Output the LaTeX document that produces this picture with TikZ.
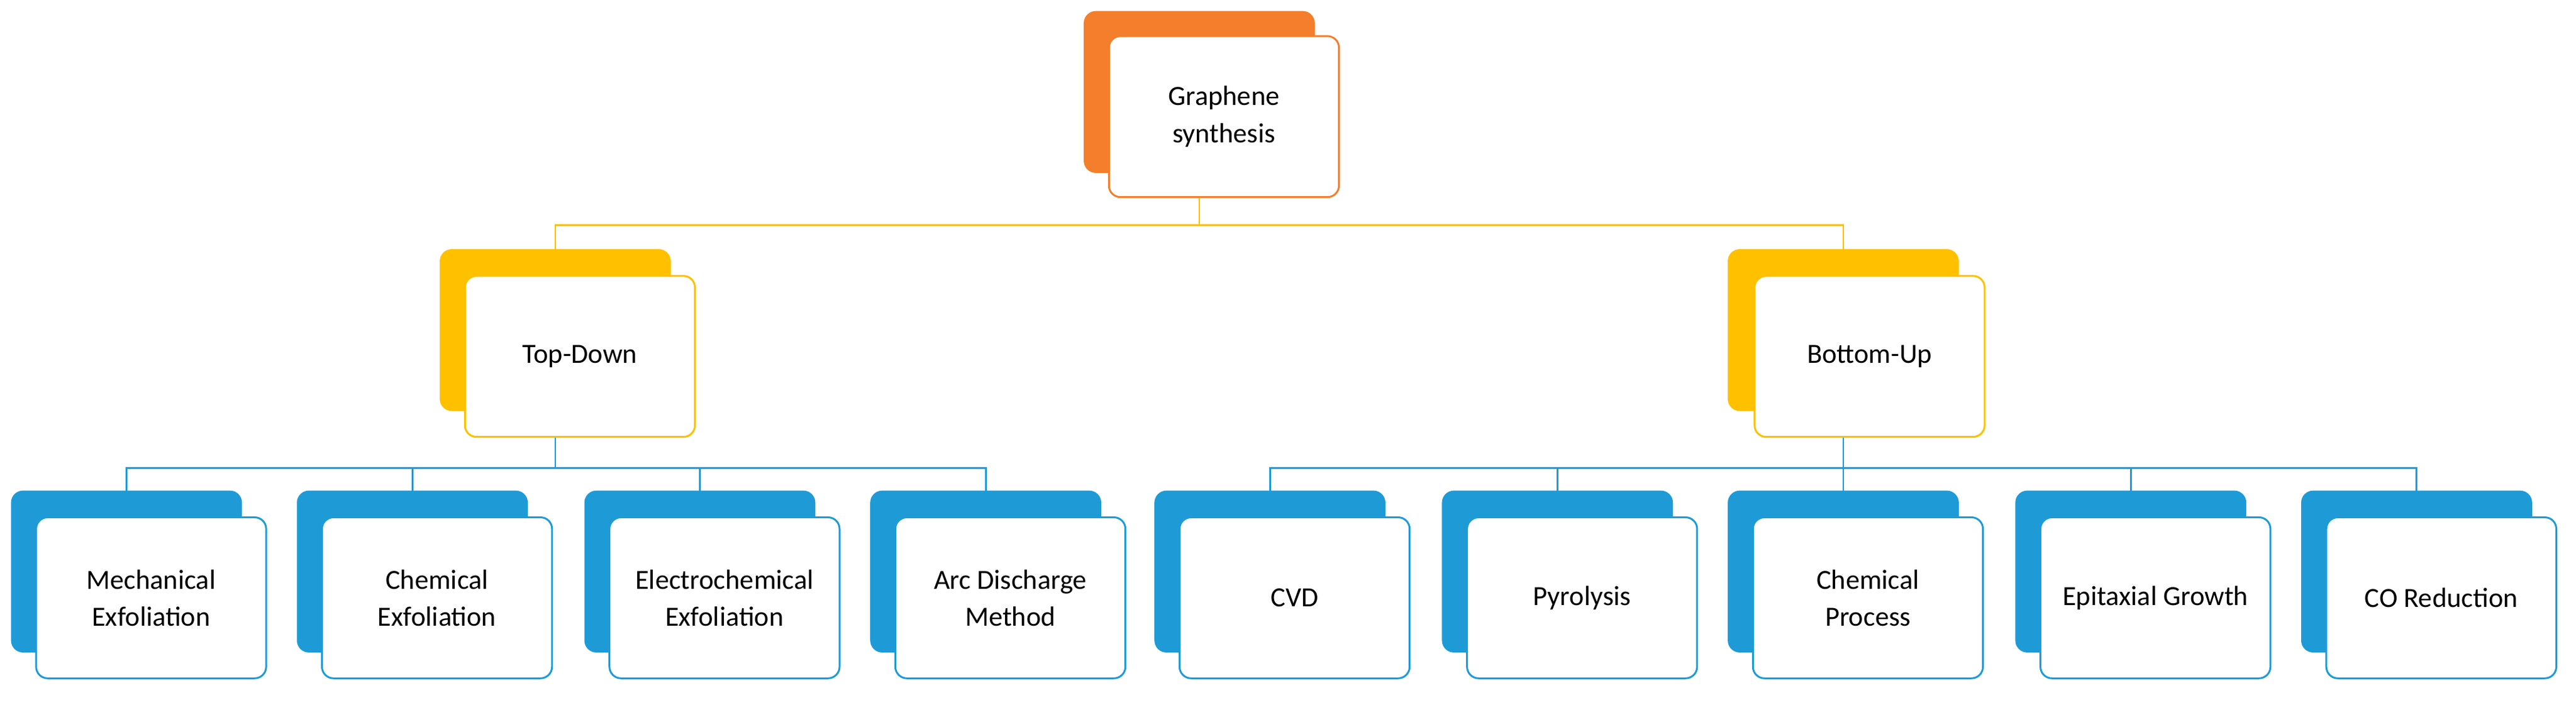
\documentclass[tikz,border=0pt]{standalone}
\usepackage{fontspec}
\setmainfont{Carlito}
\definecolor{orng}{HTML}{F47E2B}
\definecolor{yllw}{HTML}{FFC000}
\definecolor{blu}{HTML}{1E9BD7}
\begin{document}
\begin{tikzpicture}[x=0.025cm,y=-0.025cm,%
    back/.style={draw=#1,fill=#1,rounded corners=5pt,minimum width=3.5cm,minimum height=2.45cm},
    front/.style={draw=#1,fill=white,thick,rounded corners=5pt,minimum width=3.5cm,minimum height=2.45cm,
      align=center,font=\fontsize{12}{16}\selectfont},
    link/.style={draw=#1,thick}
  ]
		\useasboundingbox (0,0) rectangle (1568,429);

		% root
		\node at (730,56) [back=orng] (gb) {};
		\node at (745,71) [front=orng] (g) {Graphene\\synthesis};

		% second level
		\node at (338,201) [back=yllw] (tb) {};
		\node at (353,217) [front=yllw] (t) {Top-Down};
		\node at (1122,201) [back=yllw] (bb) {};
		\node at (1138,217) [front=yllw] (b) {Bottom-Up};

		\draw[link=yllw] (g.south -| gb) |- (338,137) -| (tb.north);
		\draw[link=yllw] (g.south -| gb) |- (1122,137) -| (bb.north);

		% leaves
		\foreach \x/\name/\lbl/\up in {77/l1/{Mechanical\\Exfoliation}/t, 251/l2/{Chemical\\Exfoliation}/t,
			426/l3/{Electrochemical\\Exfoliation}/t, 600/l4/{Arc Discharge\\Method}/t,
			773/l5/CVD/b, 948/l6/Pyrolysis/b, 1122/l7/{Chemical\\Process}/b,
			1297/l8/Epitaxial Growth/b, 1471/l9/CO Reduction/b}{
			\node at (\x,348) [back=blu] (\name b) {};
			\node at (\x+15,364) [front=blu] (\name) {\lbl};
			\draw[link=blu] (\up.south -| \up b) |- (\x,285) -- (\name b.north);
		}
\end{tikzpicture}
\end{document}
